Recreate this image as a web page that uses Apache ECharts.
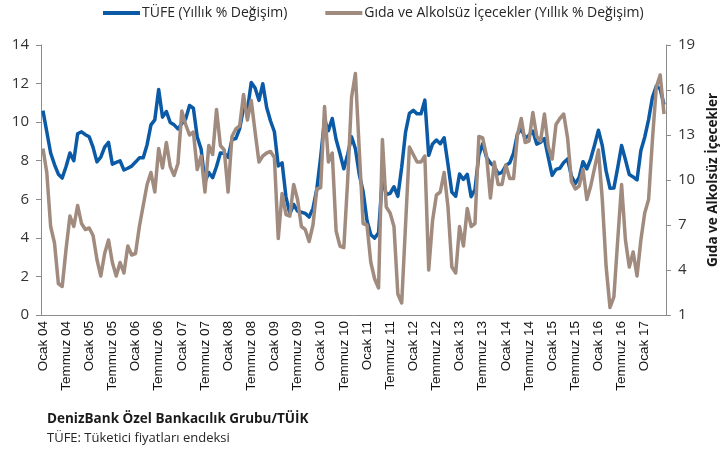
<!DOCTYPE html>
<html>
<head>
<meta charset="utf-8">
<style>
  html, body { margin: 0; padding: 0; background: #fff; }
  #chart { width: 728px; height: 457px; }
</style>
<script src="https://cdn.jsdelivr.net/npm/echarts@6/dist/echarts.min.js"></script>
</head>
<body>
<div id="chart"></div>
<script>
// aylar: Ocak 2004 - Haziran 2017
var monthNames = ['Ocak', 'Şubat', 'Mart', 'Nisan', 'Mayıs', 'Haziran', 'Temmuz', 'Ağustos', 'Eylül', 'Ekim', 'Kasım', 'Aralık']
var startYear = 2004
var monthCount = 162

// TÜFE yıllık % değişim (sol eksen)
var tufe = [
  10.6, 9.5, 8.4, 7.8, 7.3, 7.1, 7.7, 8.4, 8.0, 9.4, 9.5, 9.35,
  9.24, 8.69, 7.94, 8.18, 8.70, 8.95, 7.82, 7.91, 7.99, 7.52, 7.61, 7.72,
  7.93, 8.15, 8.16, 8.83, 9.86, 10.12, 11.69, 10.26, 10.55, 9.98, 9.86, 9.65,
  9.93, 10.16, 10.86, 10.72, 9.23, 8.60, 6.90, 7.39, 7.12, 7.70, 8.40, 8.39,
  8.17, 9.10, 9.15, 9.66, 10.74, 10.61, 12.06, 11.77, 11.13, 11.99, 10.76, 10.06,
  9.50, 7.73, 7.89, 6.13, 5.24, 5.73, 5.39, 5.33, 5.27, 5.08, 5.53, 6.53,
  8.19, 10.13, 9.56, 10.19, 9.10, 8.37, 7.58, 8.33, 9.24, 8.62, 7.29, 6.40,
  4.90, 4.16, 3.99, 4.26, 7.17, 6.24, 6.31, 6.65, 6.15, 7.66, 9.48, 10.45,
  10.61, 10.43, 10.43, 11.14, 8.28, 8.87, 9.07, 8.88, 9.19, 7.80, 6.37, 6.16,
  7.31, 7.03, 7.29, 6.13, 6.51, 8.30, 8.88, 8.17, 7.88, 7.71, 7.32, 7.40,
  7.75, 7.89, 8.39, 9.38, 9.66, 9.16, 9.32, 9.54, 8.86, 8.96, 9.15, 8.17,
  7.24, 7.55, 7.61, 7.91, 8.09, 7.20, 6.81, 7.14, 7.95, 7.58, 8.10, 8.81,
  9.58, 8.78, 7.46, 6.57, 6.58, 7.64, 8.79, 8.05, 7.28, 7.16, 7.00, 8.53,
  9.22, 10.13, 11.29, 11.87, 11.72, 10.90
]

// Gıda ve alkolsüz içecekler yıllık % değişim (sağ eksen)
var gida = [
  12.1, 10.5, 6.9, 5.8, 3.1, 2.9, 5.4, 7.6, 6.9, 8.3, 7.1, 6.7,
  6.8, 6.3, 4.7, 3.6, 5.1, 6.0, 4.5, 3.6, 4.5, 3.8, 5.6, 5.0,
  5.1, 6.9, 8.3, 9.7, 10.5, 9.2, 12.1, 10.8, 12.5, 10.9, 10.3, 11.1,
  14.6, 13.7, 13.0, 13.2, 10.7, 11.6, 9.2, 12.3, 11.7, 14.7, 12.3, 12.0,
  9.2, 12.9, 13.4, 13.6, 15.7, 14.0, 15.3, 13.2, 11.2, 11.6, 11.8, 11.9,
  11.5, 6.1, 9.1, 7.7, 7.6, 9.7, 8.7, 6.9, 6.7, 5.9, 7.0, 9.4,
  9.5, 14.9, 11.2, 11.8, 6.6, 5.6, 5.5, 10.0, 15.5, 17.1, 12.0, 7.1,
  7.0, 4.5, 3.4, 2.8, 12.7, 8.2, 7.8, 6.9, 2.4, 1.8, 7.0, 12.2,
  11.7, 11.2, 11.2, 11.6, 4.0, 7.3, 9.0, 9.2, 10.5, 8.2, 4.2, 3.8,
  6.9, 5.6, 8.1, 6.9, 7.1, 12.9, 12.8, 11.6, 8.8, 11.2, 9.7, 9.7,
  11.0, 10.1, 10.1, 13.0, 14.1, 12.5, 12.6, 14.5, 12.9, 12.6, 14.4, 12.2,
  11.4, 13.7, 14.1, 14.4, 12.8, 9.9, 9.4, 9.6, 10.7, 8.7, 9.6, 10.8,
  12.0, 8.7, 4.2, 1.5, 2.2, 6.0, 9.7, 6.0, 4.2, 5.2, 3.6, 6.0,
  7.8, 8.7, 12.7, 16.2, 17.0, 14.4
]

var leftTicks = { min: 0, max: 14, step: 2 }
var rightTicks = { min: 1, max: 19, step: 3 }

var months = []
for (var i = 0; i < monthCount; i++) {
  var yy = String((startYear + Math.floor(i / 12)) % 100)
  if (yy.length < 2) yy = '0' + yy
  months.push(monthNames[i % 12] + ' ' + yy)
}

var BLUE = '#0B5AA6'
var BROWN = '#A08B7E'
var AXIS = '#8C8C8C'
var UI_FONT = '"Open Sans", "Noto Sans", sans-serif'

var chart = echarts.init(document.getElementById('chart'))

chart.setOption({
  animation: false,
  backgroundColor: '#fff',
  legend: {
    top: 1,
    left: 98,
    icon: 'rect',
    itemWidth: 37,
    itemHeight: 4,
    itemGap: 38,
    textStyle: {
      fontFamily: UI_FONT,
      fontSize: 14,
      color: '#262626',
      padding: [0, 0, 0, -3]
    },
    data: ['TÜFE (Yıllık % Değişim)', 'Gıda ve Alkolsüz İçecekler (Yıllık % Değişim)']
  },
  grid: {
    left: 41,
    right: 53,
    top: 45,
    bottom: 142
  },
  xAxis: {
    type: 'category',
    data: months,
    boundaryGap: true,
    axisLine: { lineStyle: { color: AXIS, width: 1 } },
    axisTick: {
      interval: 5,
      length: 5,
      lineStyle: { color: AXIS }
    },
    axisLabel: {
      interval: 5,
      rotate: 90,
      margin: 6,
      fontFamily: 'Liberation Sans, Arial, sans-serif',
      fontSize: 13.5,
      color: '#111'
    },
    splitLine: { show: false }
  },
  yAxis: [
    {
      type: 'value',
      min: leftTicks.min,
      max: leftTicks.max,
      interval: leftTicks.step,
      axisLine: { show: true, lineStyle: { color: AXIS } },
      axisTick: { show: true, length: 5, lineStyle: { color: AXIS } },
      axisLabel: {
        margin: 12,
        fontFamily: UI_FONT,
        fontSize: 15,
        color: '#333'
      },
      splitLine: { show: false }
    },
    {
      type: 'value',
      position: 'right',
      min: rightTicks.min,
      max: rightTicks.max,
      interval: rightTicks.step,
      name: 'Gıda ve Alkolsüz İçecekler',
      nameLocation: 'middle',
      nameRotate: 90,
      nameGap: 35,
      nameTextStyle: {
        fontFamily: UI_FONT,
        fontSize: 13.5,
        fontWeight: 'bold',
        color: '#1a1a1a'
      },
      axisLine: { show: true, lineStyle: { color: AXIS } },
      axisTick: { show: true, length: 5, lineStyle: { color: AXIS } },
      axisLabel: {
        margin: 12,
        fontFamily: UI_FONT,
        fontSize: 15,
        color: '#333'
      },
      splitLine: { show: false }
    }
  ],
  series: [
    {
      name: 'TÜFE (Yıllık % Değişim)',
      type: 'line',
      yAxisIndex: 0,
      data: tufe,
      symbol: 'none',
      color: BLUE,
      lineStyle: { width: 3.5, color: BLUE, join: 'round' }
    },
    {
      name: 'Gıda ve Alkolsüz İçecekler (Yıllık % Değişim)',
      type: 'line',
      yAxisIndex: 1,
      data: gida,
      symbol: 'none',
      color: BROWN,
      lineStyle: { width: 3.5, color: BROWN, join: 'round' }
    }
  ],
  graphic: [
    {
      type: 'text',
      left: 47,
      top: 412,
      style: {
        text: 'DenizBank Özel Bankacılık Grubu/TÜİK',
        font: 'bold 13.5px ' + UI_FONT,
        fill: '#1a1a1a'
      }
    },
    {
      type: 'text',
      left: 47,
      top: 432,
      style: {
        text: 'TÜFE: Tüketici fiyatları endeksi',
        font: '13px ' + UI_FONT,
        fill: '#262626'
      }
    }
  ]
})
</script>
</body>
</html>
